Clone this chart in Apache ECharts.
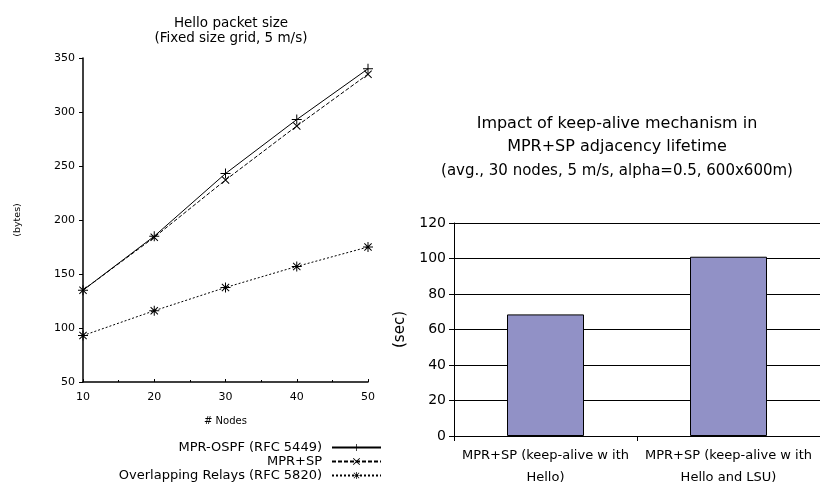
<!DOCTYPE html>
<html>
<head>
  <meta charset="utf-8">
  <title>Hello packet size / keep-alive</title>
  <script src="https://cdn.jsdelivr.net/npm/echarts@6/dist/echarts.min.js"></script>
  <style>
    html, body { margin: 0; padding: 0; background: #fff; }
    #chart { width: 820px; height: 490px; }
  </style>
</head>
<body>
  <div id="chart"></div>
  <script>
    // left chart data
    var nodes = [10, 20, 30, 40, 50];
    var mprOspf = [135, 185, 243, 293, 340];
    var mprSp = [135, 184, 237, 287, 335];
    var overlapping = [93, 116, 137.5, 157, 175];

    // right chart data
    var keepAliveCats = ['MPR+SP (keep-alive w ith\nHello)', 'MPR+SP (keep-alive w ith\nHello and LSU)'];
    var keepAliveVals = [68.5, 101];

    // the source picture is a bit wide, DejaVu fits the text boxes better
    var FONT = 'DejaVu Sans, Liberation Sans, Arial, sans-serif';

    // marker shapes (filled thin bars so they read like strokes)
    var plusPath = 'path://M-0.5,-5 L0.5,-5 L0.5,-0.5 L5,-0.5 L5,0.5 L0.5,0.5 L0.5,5 L-0.5,5 L-0.5,0.5 L-5,0.5 L-5,-0.5 L-0.5,-0.5 Z';
    var crossPath = 'path://M-4,-3.3 L-3.3,-4 L0,-0.7 L3.3,-4 L4,-3.3 L0.7,0 L4,3.3 L3.3,4 L0,0.7 L-3.3,4 L-4,3.3 L-0.7,0 Z';
    var starPath = 'path://M-0.5,-5 L0.5,-5 L0.5,-1.2 L3.3,-4 L4,-3.3 L1.2,-0.5 L5,-0.5 L5,0.5 L1.2,0.5 L4,3.3 L3.3,4 L0.5,1.2 L0.5,5 L-0.5,5 L-0.5,1.2 L-3.3,4 L-4,3.3 L-1.2,0.5 L-5,0.5 L-5,-0.5 L-1.2,-0.5 L-4,-3.3 L-3.3,-4 L-0.5,-1.2 Z';

    function pairs(xs, ys) {
      return xs.map(function (x, i) { return [x, ys[i]]; });
    }

    function lineSeries(name, data, symbol, size, dash) {
      return {
        name: name,
        type: 'line',
        xAxisIndex: 0,
        yAxisIndex: 0,
        data: pairs(nodes, data),
        symbol: symbol,
        symbolSize: size,
        showAllSymbol: true,
        itemStyle: { color: '#000' },
        lineStyle: { color: '#000', width: 1, type: dash },
        emphasis: { disabled: true }
      };
    }

    var chart = echarts.init(document.getElementById('chart'), null, { renderer: 'canvas' });

    chart.setOption({
      animation: false,
      backgroundColor: '#fff',
      textStyle: { fontFamily: FONT },
      title: [
        {
          text: 'Hello packet size\n(Fixed size grid, 5 m/s)',
          left: 226, top: 11, textAlign: 'center',
          textStyle: { fontSize: 13.5, fontWeight: 'normal', color: '#000', lineHeight: 15, fontFamily: FONT }
        },
        {
          text: 'Impact of keep-alive mechanism in\nMPR+SP adjacency lifetime',
          left: 612, top: 107, textAlign: 'center',
          textStyle: { fontSize: 16, fontWeight: 'normal', color: '#000', lineHeight: 23, fontFamily: FONT }
        },
        {
          text: '(avg., 30 nodes, 5 m/s, alpha=0.5, 600x600m)',
          left: 612, top: 159, textAlign: 'center',
          textStyle: { fontSize: 15, fontWeight: 'normal', color: '#000', fontFamily: FONT }
        }
      ],
      legend: {
        orient: 'vertical',
        right: 438,
        top: 441,
        align: 'right',
        itemWidth: 49,
        itemHeight: 9,
        itemGap: 1,
        padding: 0,
        textStyle: { fontSize: 13, color: '#000', fontFamily: FONT, padding: [0, 5, 0, 0] },
        data: ['MPR-OSPF (RFC 5449)', 'MPR+SP', 'Overlapping Relays (RFC 5820)']
      },
      grid: [
        { left: 83, right: 452, top: 58, bottom: 108 },
        { left: 454, right: -6, top: 223, bottom: 54 }
      ],
      xAxis: [
        {
          gridIndex: 0,
          type: 'value',
          min: 10, max: 50, interval: 10,
          name: '# Nodes',
          nameLocation: 'middle',
          nameGap: 34,
          nameTextStyle: { fontSize: 10, color: '#000' },
          axisLine: { lineStyle: { color: '#000', width: 1.5 } },
          axisTick: { show: true, inside: true, length: 3, lineStyle: { color: '#000' } },
          minorTick: { show: true, splitNumber: 2, length: 2, lineStyle: { color: '#000' } },
          axisLabel: { fontSize: 11, color: '#000', margin: 10 },
          splitLine: { show: false }
        },
        {
          gridIndex: 1,
          type: 'category',
          data: keepAliveCats,
          axisLine: { lineStyle: { color: '#000', width: 1 } },
          axisTick: { show: true, length: 5, alignWithLabel: false, lineStyle: { color: '#000' } },
          axisLabel: { fontSize: 13, color: '#000', lineHeight: 22, margin: 9, interval: 0 },
          splitLine: { show: false }
        }
      ],
      yAxis: [
        {
          gridIndex: 0,
          type: 'value',
          min: 50, max: 350, interval: 50,
          name: '(bytes)',
          nameLocation: 'middle',
          nameGap: 60,
          nameTextStyle: { fontSize: 9.5, color: '#000' },
          axisLine: { show: true, lineStyle: { color: '#000', width: 1.5 } },
          axisTick: { show: true, length: 4, lineStyle: { color: '#000' } },
          axisLabel: { fontSize: 11, color: '#000', margin: 8 },
          splitLine: { show: false }
        },
        {
          gridIndex: 1,
          type: 'value',
          min: 0, max: 120, interval: 20,
          name: '(sec)',
          nameLocation: 'middle',
          nameGap: 46,
          nameTextStyle: { fontSize: 15, color: '#000' },
          axisLine: { show: true, lineStyle: { color: '#000', width: 1 } },
          axisTick: { show: true, length: 5, lineStyle: { color: '#000' } },
          axisLabel: { fontSize: 14, color: '#000', margin: 8 },
          splitLine: { show: true, lineStyle: { color: '#000', width: 1 } }
        }
      ],
      series: [
        lineSeries('MPR-OSPF (RFC 5449)', mprOspf, plusPath, 10, 'solid'),
        lineSeries('MPR+SP', mprSp, crossPath, 8, [4, 2]),
        lineSeries('Overlapping Relays (RFC 5820)', overlapping, starPath, 10, [2, 2]),
        {
          name: 'Adjacency lifetime',
          type: 'bar',
          xAxisIndex: 1,
          yAxisIndex: 1,
          data: keepAliveVals,
          barWidth: 77,
          itemStyle: { color: '#9191c6', borderColor: '#000', borderWidth: 1 },
          emphasis: { disabled: true }
        }
      ]
    });
  </script>
</body>
</html>
